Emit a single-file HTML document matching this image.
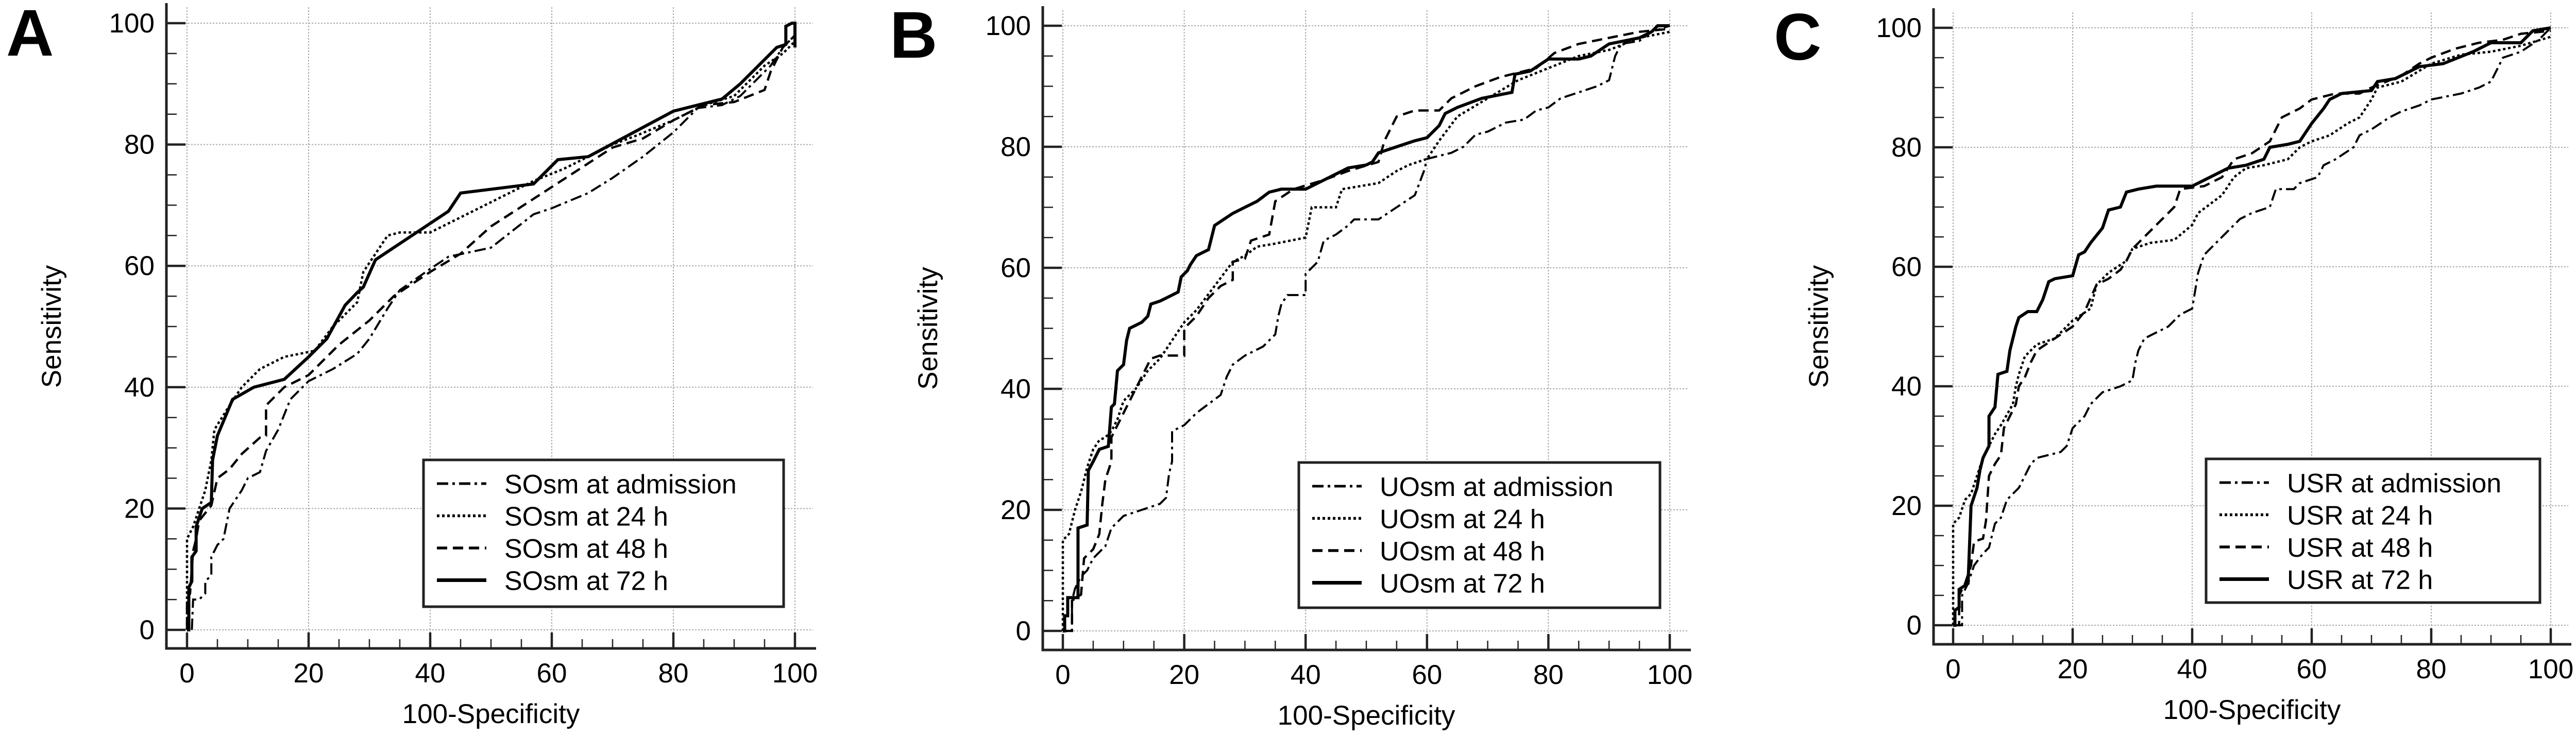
<!DOCTYPE html>
<html><head><meta charset="utf-8"><style>
html,body{margin:0;padding:0;background:#fff}
svg{display:block}
text{font-family:"Liberation Sans",Arial,sans-serif;fill:#000}
</style></head><body>
<svg id="s" xmlns="http://www.w3.org/2000/svg" width="5019" height="1431" viewBox="0 0 5019 1431"></svg>
<script>
var S=document.getElementById('s');var out='';
var P=[
{L:'A',lx:12,ly:108,ax:323,x0:363,x100:1543,y0:1223,y100:45,ay:1259,top:6,right:1584,
 leg:[822,893,1521,1178],name:'SOsm',
 c:[
 [[0.8,0],[1,5],[2,5],[3,6],[3,8],[4,9],[4,12],[5,14],[6,15],[7,20],[9,23],[10,25],[12,26],[13,29.5],[15,33],[17,38],[20,41],[24,43],[28,45.5],[30,48],[33,53],[35,56],[40,59.5],[43,61.5],[50,63],[57,68.5],[60,69.5],[66,72],[70,74.5],[75,78],[80,82],[84,86],[88,86.5],[91,88],[94,91],[96,93],[98,96],[100,98]],
 [[0,0],[0,15],[1,17],[2,20],[3,23],[4,28],[4.5,33],[7,37],[9,40],[12,43],[16,45],[21,46],[24,50],[28,54],[29,59],[30,60.5],[33,65],[35,65.5],[40,65.5],[45,68],[57,74],[62,76],[70,80],[74,81.5],[80,84],[85,86.5],[90,88],[95,93],[98,95],[100,97]],
 [[0,0],[0,5],[0.5,6],[1,13],[1.5,15],[2,18],[4,20.5],[5,25],[7,26.5],[9,29],[12,31.7],[13,32],[13,37],[16,40],[20,42],[25,47],[30,51],[34,55],[40,59],[45,62],[50,66.5],[60,73],[70,79.5],[75,81],[80,84],[85,86.5],[90,87],[95,89],[96,92],[98,96],[100,98]],
 [[0,0],[0.3,0],[0.3,7],[0.8,8],[0.8,12],[1.5,13],[1.5,17],[2.5,20],[4,21],[4.2,28],[5,32],[7.5,38],[11,40],[16,41.3],[20,45],[23,48],[26,53.5],[28,55.6],[29,56.5],[31,61],[43,69],[45,72],[57,73.5],[61,77.5],[66,78],[80,85.5],[88,87.5],[91,90],[95,94],[97,96],[98.5,96.5],[98.5,99.5],[99.5,100],[100,100],[100,96]]]},
{L:'B',lx:1727,ly:112,ax:2024,x0:2063,x100:3241,y0:1225,y100:50,ay:1262,top:12,right:3282,
 leg:[2521,898,3222,1180],name:'UOsm',
 c:[
 [[0,0],[1.5,0],[1.5,5],[2,7],[3,9],[4,10],[5,12],[7,14],[8,17],[10,19],[13,20],[16,21],[17,22],[17.5,26],[18,28],[18,33],[20,34],[22,36],[24,37.5],[26,39],[27,42],[28,44],[30,45.5],[33,47],[35,49],[35.5,52],[36,54],[37,55.5],[40,55.5],[40,59],[42,61],[43,64.5],[45,65.5],[47,67],[48,68],[52,68],[55,70],[58,72],[59.5,76],[60,78],[64,79],[66,80],[68,82],[70,82.5],[73,84],[76,84.5],[78,86],[80,86.5],[82,88],[85,89],[88,90],[90,91],[91,95],[92,97],[95,97.5],[97,99],[100,100]],
 [[0,0],[0,15],[1,16],[2,20],[3,23],[4,27],[5,30],[6,31.5],[7,32],[8,33],[9,35],[10,38],[12,40],[14,43],[16,45],[18,48],[20,51],[22,53],[25,57],[28,61],[30,62],[32,63.5],[35,64],[40,65],[41,70],[45,70],[46,73],[52,74],[55,76],[57,77],[60,78],[62,81],[65,85],[70,88],[75,91],[80,93],[85,95],[90,96],[95,98],[100,99]],
 [[0,0],[1.5,0],[1.5,5],[3,6],[3.5,12],[5,13.5],[6,16],[6.5,21],[7,25],[8,28],[8,32],[9,34],[10,36],[11,38],[13,42],[14.5,45],[16,45.5],[20,45.5],[20,50],[22,52],[24,55],[26,57],[28,58],[28,61],[30,61.5],[31,64.5],[34,65.5],[35,71],[38,73],[43,74.5],[47,76],[52,77.5],[53,81],[55,85],[58,86],[62,86],[64,88],[68,90],[72,91.5],[78,93],[81,95.5],[85,97],[90,98],[95,99],[100,99.5]],
 [[0,0],[0.3,0],[0.3,2.5],[0.8,2.5],[0.8,5.5],[2.5,5.5],[2.5,17],[4,17.5],[4.2,26.5],[5,28],[6,30],[7.5,30.5],[8,37],[8.5,37.5],[9,43],[10,44],[10.5,48],[11,50],[13,51],[14,52],[14.5,54],[16,54.5],[17,55],[19,56],[19.5,58.5],[20.5,59.5],[21,60.5],[22,62],[23,62.5],[24,63],[25,67],[26.5,68],[28,69],[30,70],[32,71],[34,72.5],[36,73],[40,73],[42,74],[45,75.5],[47,76.5],[50,77],[51,77.5],[52,79],[55,80],[58,81],[60,81.5],[62,83.5],[63,85.5],[65,86.5],[69,88],[74,89],[74.5,92],[77,92.5],[80,94.5],[85,94.5],[87,95],[90,97],[95,98],[97,99],[98,100],[100,100]]]},
{L:'C',lx:3443,ly:116,ax:3753,x0:3791,x100:4951,y0:1214,y100:54,ay:1251,top:16,right:4991,
 leg:[4282,891,4930,1170],name:'USR',
 c:[
 [[0,0],[1.5,0],[1.5,5],[2.5,7],[3.5,10],[5,12],[6,13],[7,17],[8,18],[9,21],[11,23],[12,25],[13,27],[14,28],[18,29],[19,30],[20,33],[22,35],[23,37],[25,39],[28,40],[30,41],[30.5,44],[31,46],[32,48],[34,49],[36,50],[38,52],[40,53],[40.5,56],[41,59],[42,62],[44,64],[46,66],[48,68],[50,69],[53,70],[54,73],[57,73],[58,74],[61,75],[62,77],[64,78],[67,80],[68,82],[70,83],[73,85],[75,86],[78,87],[80,88],[85,89],[88,90],[90,91],[92,95],[95,96],[98,98],[100,100]],
 [[0,0],[0,17],[1,18],[2,21],[3,22],[4,25],[5,28],[6,30],[7,32],[8,33.5],[10,37],[10.5,40],[11,42],[12,45],[13,46],[14,47],[17,48],[20,51],[23,53],[24,57],[26,59],[29,61],[30,63],[33,64],[37,64.5],[40,67],[41,69],[45,72],[47,75],[49,76.5],[52,77],[56,78],[58,80],[60,81],[63,82],[66,84],[68,85],[70,88],[71,90],[75,91],[80,94],[85,95.5],[90,96],[95,97],[100,98.5]],
 [[0,0],[1,0],[1,5],[2,7],[3,10],[3.5,14],[5,14.5],[5.5,17.5],[6,25],[7,27],[8,28.5],[8.5,33],[9.5,35],[10.5,37],[11,40],[12,41.5],[13,44],[14,46],[17,48],[20,50],[22,52.5],[24,57],[26,58],[28,59.5],[29,61],[30,63],[33,66],[35,68],[37,70],[38,73],[42,73.5],[45,75],[47,78],[50,79],[53,81],[55,85],[58,86.5],[60,88],[64,89],[68,89],[70,90],[75,92],[78,94],[80,95],[84,96.5],[88,97.5],[92,98],[95,99],[100,99.5]],
 [[0,0],[0.3,0],[0.3,2.5],[1,3],[1,6],[2.5,7],[3,20],[4,23],[4.5,26],[5,28],[6,30],[6,35],[7,36.5],[7.5,42],[9,42.5],[9.5,46],[10.5,50],[11,51.5],[12.5,52.5],[14,52.5],[15,54.5],[16,57.5],[17,58],[20,58.5],[21,62],[22,62.5],[23,64],[25,66.5],[26,69.5],[28,70],[29,72.5],[31,73],[34,73.5],[40,73.5],[42,74.5],[44,75.5],[46,76.5],[49,77],[52,78],[53,80],[56,80.5],[58,81],[60,84],[62,86.5],[63,88],[65,89],[70,89.5],[71,91],[74,91.5],[78,93.5],[82,94],[87,96],[90,97.5],[95,97.5],[97,99.5],[100,100]]]}
];
var styles=[
 {w:4,d:'22 8 5 8'},{w:4.5,d:'5 5'},{w:4.5,d:'20 11'},{w:6,d:''}];
var labs=['at admission','at 24 h','at 48 h','at 72 h'];
P.forEach(function(p){
 var X=function(v){return p.x0+(p.x100-p.x0)*v/100},Y=function(v){return p.y0+(p.y100-p.y0)*v/100};
 // grid
 for(var v=0;v<=100;v+=20){
  out+='<line x1="'+X(v)+'" y1="'+(p.top+8)+'" x2="'+X(v)+'" y2="'+p.ay+'" stroke="#aaa" stroke-width="2" stroke-dasharray="3 3"/>';
  out+='<line x1="'+p.ax+'" y1="'+Y(v)+'" x2="'+(p.right-6)+'" y2="'+Y(v)+'" stroke="#aaa" stroke-width="2" stroke-dasharray="3 3"/>';
 }
 // ticks
 for(var v=0;v<=100;v+=5){
  var maj=v%20==0;
  out+='<line x1="'+X(v)+'" y1="'+p.ay+'" x2="'+X(v)+'" y2="'+(p.ay-(maj?31:18))+'" stroke="#222" stroke-width="'+(maj?4.5:2.5)+'"/>';
  out+='<line x1="'+p.ax+'" y1="'+Y(v)+'" x2="'+(p.ax+(maj?37:20))+'" y2="'+Y(v)+'" stroke="#222" stroke-width="'+(maj?4.5:2.5)+'"/>';
  if(maj){
   out+='<text x="'+X(v)+'" y="'+(p.ay+66)+'" font-size="53" text-anchor="middle">'+v+'</text>';
   out+='<text x="'+(p.ax-23)+'" y="'+(Y(v)+18)+'" font-size="53" text-anchor="end">'+v+'</text>';
  }
 }
 out+='<path d="M'+p.ax+' '+p.top+'V'+p.ay+'H'+p.right+'" fill="none" stroke="#222" stroke-width="5"/>';
 // curves
 p.c.forEach(function(c,i){
  var d=c.map(function(q,j){return (j?'L':'M')+X(q[0]).toFixed(1)+' '+Y(q[1]).toFixed(1)}).join('');
  out+='<path d="'+d+'" fill="none" stroke="#000" stroke-width="'+styles[i].w+'" stroke-dasharray="'+styles[i].d+'" stroke-linejoin="miter"/>';
 });
 // legend
 var l=p.leg;
 out+='<rect x="'+l[0]+'" y="'+l[1]+'" width="'+(l[2]-l[0])+'" height="'+(l[3]-l[1])+'" fill="#fff" stroke="#222" stroke-width="5"/>';
 for(var i=0;i<4;i++){
  var by=l[1]+65+i*62.5;
  out+='<line x1="'+(l[0]+26)+'" y1="'+(by-19)+'" x2="'+(l[0]+122)+'" y2="'+(by-19)+'" stroke="#000" stroke-width="'+(styles[i].w+1)+'" stroke-dasharray="'+styles[i].d+'"/>';
  out+='<text x="'+(l[0]+157)+'" y="'+by+'" font-size="52">'+p.name+' '+labs[i]+'</text>';
 }
 out+='<text x="'+((p.x0+p.x100)/2)+'" y="'+(p.ay+145)+'" font-size="53" text-anchor="middle">100-Specificity</text>';
 var cy=(p.y0+p.y100)/2;
 out+='<text transform="translate('+(p.ax-205)+','+cy+') rotate(-90)" font-size="53" text-anchor="middle">Sensitivity</text>';
 out+='<text x="'+p.lx+'" y="'+p.ly+'" font-size="128" font-weight="bold">'+p.L+'</text>';
});
S.innerHTML=out;
</script>
</body></html>
